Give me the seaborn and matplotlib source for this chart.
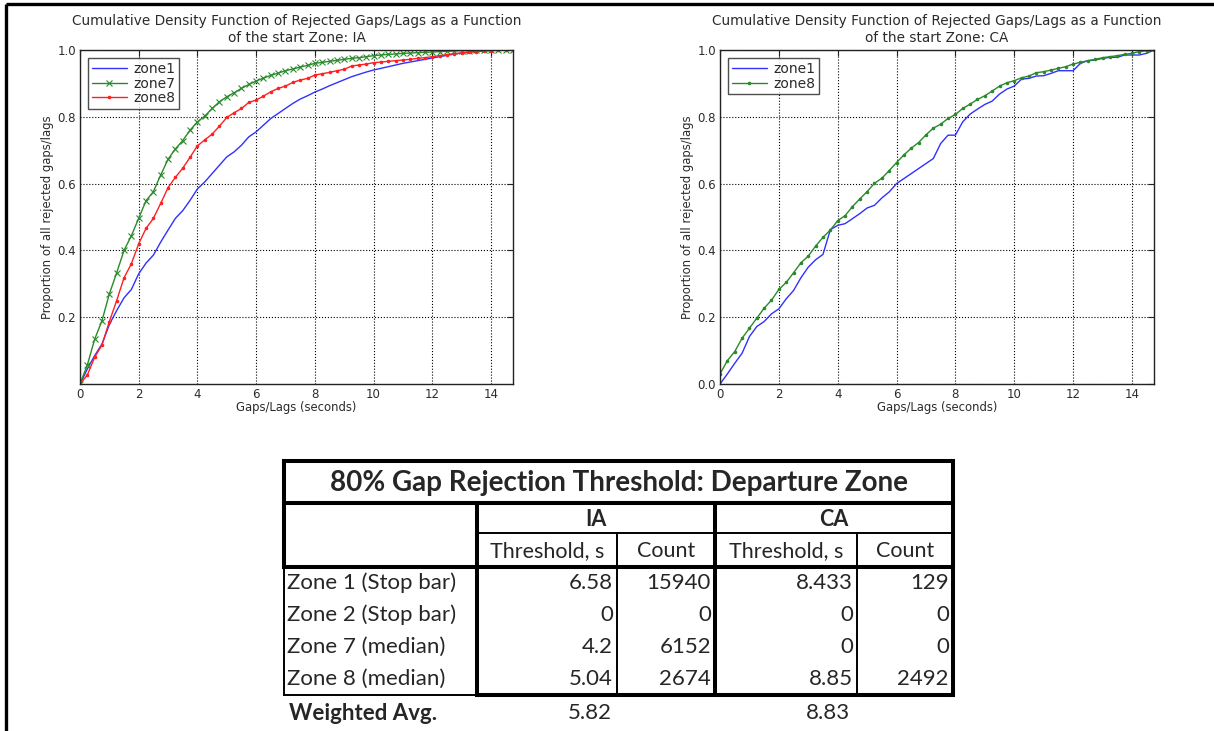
"""
CDF of rejected gaps/lags by start zone, plus the 80% threshold table
"""
import numpy as np
import pandas as pd
import matplotlib
matplotlib.use('Agg')
import matplotlib.pyplot as plt
import seaborn as sns

# ---- data ----
GAP_STEP = 0.25
N_POINTS = 60  # 0 .. 14.75 s

ia_zone1 = [0.0, 0.045, 0.085, 0.12, 0.178, 0.22, 0.258, 0.283, 0.33, 0.362,
            0.386, 0.425, 0.461, 0.496, 0.519, 0.55, 0.584, 0.605, 0.63, 0.655,
            0.68, 0.695, 0.715, 0.74, 0.755, 0.775, 0.795, 0.81, 0.825, 0.84,
            0.853, 0.863, 0.874, 0.883, 0.893, 0.902, 0.911, 0.92, 0.927, 0.934,
            0.94, 0.945, 0.95, 0.955, 0.96, 0.964, 0.968, 0.972, 0.976, 0.98,
            0.984, 0.988, 0.991, 0.994, 0.996, 0.998, 0.999, 1.0, 1.0, 1.0]
ia_zone7 = [0.0, 0.057, 0.134, 0.19, 0.27, 0.333, 0.40, 0.444, 0.496, 0.549,
            0.576, 0.626, 0.673, 0.704, 0.729, 0.76, 0.785, 0.802, 0.825, 0.845,
            0.86, 0.872, 0.885, 0.897, 0.907, 0.916, 0.924, 0.931, 0.938, 0.943,
            0.949, 0.954, 0.96, 0.963, 0.966, 0.969, 0.972, 0.975, 0.977, 0.98,
            0.983, 0.985, 0.987, 0.988, 0.99, 0.991, 0.992, 0.993, 0.994, 0.995,
            0.996, 0.997, 0.998, 0.998, 0.999, 0.999, 1.0, 1.0, 1.0, 1.0]
ia_zone8 = [0.0, 0.027, 0.08, 0.117, 0.187, 0.25, 0.318, 0.36, 0.42, 0.466,
            0.496, 0.541, 0.588, 0.619, 0.646, 0.679, 0.713, 0.731, 0.748, 0.772,
            0.798, 0.812, 0.825, 0.843, 0.85, 0.862, 0.875, 0.885, 0.892, 0.903,
            0.91, 0.915, 0.925, 0.929, 0.933, 0.938, 0.942, 0.952, 0.955, 0.958,
            0.962, 0.964, 0.966, 0.968, 0.97, 0.972, 0.975, 0.977, 0.98, 0.983,
            0.986, 0.989, 0.991, 0.993, 0.995, 0.997, 0.998, 0.999, 1.0, 1.0]

ca_zone1 = [0.0, 0.03, 0.062, 0.092, 0.142, 0.172, 0.187, 0.21, 0.225, 0.255,
            0.28, 0.318, 0.35, 0.372, 0.388, 0.462, 0.475, 0.48, 0.495, 0.51,
            0.527, 0.535, 0.557, 0.575, 0.60, 0.615, 0.63, 0.645, 0.66, 0.675,
            0.72, 0.745, 0.745, 0.785, 0.808, 0.823, 0.837, 0.847, 0.868, 0.883,
            0.892, 0.913, 0.915, 0.922, 0.923, 0.93, 0.938, 0.938, 0.938, 0.96,
            0.968, 0.97, 0.975, 0.978, 0.978, 0.985, 0.985, 0.985, 0.99, 1.0]
ca_zone8 = [0.03, 0.07, 0.097, 0.137, 0.167, 0.197, 0.227, 0.251, 0.283, 0.304,
            0.333, 0.363, 0.383, 0.413, 0.439, 0.461, 0.489, 0.504, 0.531, 0.554,
            0.576, 0.601, 0.616, 0.639, 0.663, 0.686, 0.706, 0.723, 0.746, 0.766,
            0.778, 0.795, 0.807, 0.825, 0.838, 0.852, 0.863, 0.877, 0.892, 0.902,
            0.908, 0.917, 0.922, 0.932, 0.935, 0.94, 0.945, 0.95, 0.958, 0.963,
            0.968, 0.972, 0.977, 0.98, 0.983, 0.987, 0.99, 0.995, 0.998, 1.0]

table_title = '80% Gap Rejection Threshold: Departure Zone'
site_labels = ['IA', 'CA']
sub_headers = ['Threshold, s', 'Count', 'Threshold, s', 'Count']
row_labels = ['Zone 1 (Stop bar)', 'Zone 2 (Stop bar)', 'Zone 7 (median)', 'Zone 8 (median)']
ia_threshold = ['6.58', '0', '4.2', '5.04']
ia_count = ['15940', '0', '6152', '2674']
ca_threshold = ['8.433', '0', '0', '8.85']
ca_count = ['129', '0', '0', '2492']
weighted_avg = ['5.82', '8.83']

gaps = np.arange(N_POINTS) * GAP_STEP

# ---- styling ----
sns.set_style('white')
plt.rcParams['font.family'] = ['DejaVu Sans']
TXT = '#2b2b2b'
BLUE, GREEN, RED = '#3030ff', '#2a8a2a', '#ff2020'


def cdf_panel(ax, series, site):
    for name, vals, color, marker in series:
        df = pd.DataFrame({'gap': gaps, 'prop': vals})
        sns.lineplot(data=df, x='gap', y='prop', ax=ax, color=color, lw=1.0,
                     marker=marker, markersize=3.5 if marker == '.' else 4.5,
                     markeredgewidth=0.8, markeredgecolor=color, label=name)
    ax.set_xlim(0, 14.75)
    ax.set_ylim(0, 1.0)
    ax.set_xticks(range(0, 15, 2))
    ax.grid(True, color='black', linestyle=':', linewidth=0.8)
    for sp in ax.spines.values():
        sp.set_color('#222222')
        sp.set_linewidth(1.0)
    ax.tick_params(direction='in', top=True, right=True, labelsize=8.5,
                   colors='#222222', labelcolor=TXT, length=4, pad=3)
    ax.set_xlabel('Gaps/Lags (seconds)', fontsize=8.4, color=TXT, labelpad=0)
    ax.set_ylabel('Proportion of all rejected gaps/lags', fontsize=8.4, color=TXT, labelpad=2)
    ax.set_title('Cumulative Density Function of Rejected Gaps/Lags as a Function\n'
                 f'of the start Zone: {site}', fontsize=9.8, color=TXT, pad=6,
                 linespacing=1.25)
    leg = ax.legend(loc='upper left', fontsize=10, frameon=True, fancybox=False,
                    handlelength=2.5, borderpad=0.25, labelspacing=0.05,
                    handletextpad=0.5, borderaxespad=0.6)
    leg.get_frame().set_edgecolor('#222222')
    leg.get_frame().set_linewidth(1.0)
    for t in leg.get_texts():
        t.set_color(TXT)


fig = plt.figure(figsize=(12.14, 7.31), dpi=100)
ax1 = fig.add_axes([80 / 1214, 1 - 384 / 731, 433 / 1214, 334 / 731])
ax2 = fig.add_axes([720 / 1214, 1 - 384 / 731, 434 / 1214, 334 / 731])

cdf_panel(ax1, [('zone1', ia_zone1, BLUE, None),
                ('zone7', ia_zone7, GREEN, 'x'),
                ('zone8', ia_zone8, RED, '.')], 'IA')
ax1.set_yticks([0.2, 0.4, 0.6, 0.8, 1.0])
cdf_panel(ax2, [('zone1', ca_zone1, BLUE, None),
                ('zone8', ca_zone8, GREEN, '.')], 'CA')
ax2.set_yticks([0.0, 0.2, 0.4, 0.6, 0.8, 1.0])

# ---- overlay in pixel coordinates for page frame and table ----
ov = fig.add_axes([0, 0, 1, 1], zorder=-1)
ov.set_xlim(0, 1214)
ov.set_ylim(731, 0)
ov.axis('off')
ov.patch.set_alpha(0)

THICK, THIN = 2.9, 1.4
ov.plot([6, 1214], [4, 4], color='black', lw=2.4, solid_capstyle='butt')
ov.plot([6, 6], [4, 731], color='black', lw=2.4, solid_capstyle='butt')

# column / row edges of the table
cx = [284, 477, 617, 715, 857, 953]
ry_top, ry_title, ry_site, ry_head, ry_bot = 461, 503, 533, 567, 695


def hl(y, x0, x1, lw):
    ov.plot([x0, x1], [y, y], color='black', lw=lw, solid_capstyle='projecting')


def vl(x, y0, y1, lw):
    ov.plot([x, x], [y0, y1], color='black', lw=lw, solid_capstyle='projecting')


hl(ry_top, cx[0], cx[5], THICK)
hl(ry_title, cx[0], cx[5], THICK)
hl(ry_site, cx[1], cx[5], THIN)
hl(ry_head, cx[0], cx[5], THICK)
hl(ry_bot, cx[0], cx[1], THIN)
hl(ry_bot, cx[1], cx[5], THICK)
vl(cx[0], ry_top, ry_head, THICK)
vl(cx[0], ry_head, ry_bot, THIN)
vl(cx[1], ry_title, ry_bot, THICK)
vl(cx[3], ry_title, ry_bot, THICK)
vl(cx[5], ry_top, ry_bot, THICK)
vl(cx[2], ry_site, ry_bot, THIN)
vl(cx[4], ry_site, ry_bot, THIN)

TF = 'Lato'
FS = 16
ov.text((cx[0] + cx[5]) / 2, (ry_top + ry_title) / 2 + 1, table_title, fontsize=20,
        fontweight='bold', family=TF, ha='center', va='center')
ov.text((cx[1] + cx[3]) / 2, (ry_title + ry_site) / 2 + 1, site_labels[0], fontsize=15.5,
        fontweight='bold', family=TF, ha='center', va='center')
ov.text((cx[3] + cx[5]) / 2, (ry_title + ry_site) / 2 + 1, site_labels[1], fontsize=15.5,
        fontweight='bold', family=TF, ha='center', va='center')
for i, h in enumerate(sub_headers):
    ov.text((cx[i + 1] + cx[i + 2]) / 2, (ry_site + ry_head) / 2 + 1, h,
            fontsize=15.5, family=TF, ha='center', va='center')

row_h = (ry_bot - ry_head) / len(row_labels)
cols = [ia_threshold, ia_count, ca_threshold, ca_count]
for r, lab in enumerate(row_labels):
    y = ry_head + row_h * (r + 0.5)
    ov.text(cx[0] + 3, y, lab, fontsize=FS, family=TF, ha='left', va='center')
    for c, vals in enumerate(cols):
        ov.text(cx[c + 2] - 4, y, vals[r], fontsize=FS, family=TF,
                ha='right', va='center')

ov.text(cx[0] + 5, 713, 'Weighted Avg.', fontsize=FS, fontweight='bold', family=TF,
        ha='left', va='center')
ov.text(590, 713, weighted_avg[0], fontsize=FS, family=TF, ha='center', va='center')
ov.text(828, 713, weighted_avg[1], fontsize=FS, family=TF, ha='center', va='center')

plt.savefig('out.png', dpi=100)
